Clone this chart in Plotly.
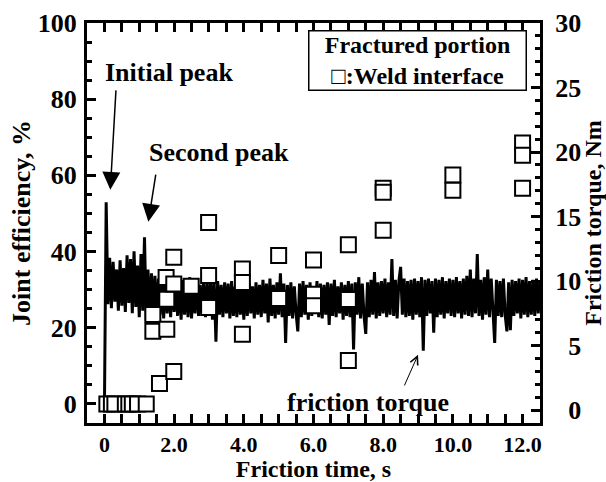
import plotly.graph_objects as go

# ---------------- data ----------------
SAMPLE_DT = 0.05  # s, sampling interval of the torque record
torque_nm = [
    0.0, 16.1, 8.2, 11.8, 7.9, 11.5, 8.4, 10.9, 7.7, 11.6, 8.1, 11.0, 7.6, 12.0, 8.3, 11.7, 7.5, 12.3, 8.0, 11.2, 7.2, 12.1, 7.7, 13.4, 6.9,
    10.9, 7.0, 10.6, 7.3, 10.4, 6.9, 10.2, 7.4, 10.5, 7.1, 10.3, 7.5, 10.0, 7.2, 10.4, 7.6, 9.9, 7.3, 10.2, 7.0, 10.1, 7.4, 9.8, 7.2, 10.3,
    7.1, 9.9, 7.5, 10.2, 7.3, 9.7, 7.6, 10.0, 7.2, 9.8, 7.4, 10.1, 7.0, 9.9, 5.3, 10.0, 7.4, 9.7, 7.2, 9.9, 7.5, 9.8, 7.1, 10.0, 7.3,
    9.6, 7.2, 9.9, 7.4, 9.7, 7.0, 10.0, 7.3, 9.8, 7.5, 9.6, 7.1, 9.9, 7.4, 9.7, 7.2, 10.1, 7.5, 9.8, 6.8, 10.2, 7.3, 9.7, 7.1, 9.9,
    7.4, 10.6, 7.2, 9.8, 5.2, 9.7, 7.3, 9.9, 7.1, 9.6, 7.5, 6.1, 9.8, 7.2, 10.0, 7.4, 9.7, 7.0, 9.9, 7.3, 9.6, 7.5, 10.0, 7.2, 9.8,
    7.1, 9.7, 7.4, 9.9, 6.6, 9.8, 7.3, 10.1, 7.2, 9.6, 7.5, 9.9, 7.0, 9.7, 7.3, 10.0, 7.2, 9.8, 4.7, 9.9, 7.4, 10.3, 7.1, 9.8, 7.3,
    5.9, 9.9, 7.2, 10.1, 7.4, 10.7, 7.1, 9.9, 7.3, 10.0, 7.5, 10.2, 7.2, 9.9, 7.4, 11.7, 7.3, 10.1, 7.1, 10.0, 11.1, 7.4, 10.2, 7.2, 10.0,
    7.3, 10.1, 7.0, 10.2, 7.4, 10.0, 7.2, 10.3, 4.6, 10.1, 7.3, 10.2, 7.5, 10.0, 6.0, 10.2, 7.2, 10.1, 7.4, 10.3, 7.1, 10.0, 7.5, 10.2, 7.3,
    10.1, 7.2, 10.3, 7.5, 10.0, 7.1, 10.2, 7.4, 10.4, 7.3, 10.9, 7.2, 10.2, 7.5, 12.1, 7.3, 10.1, 7.0, 10.3, 7.4, 10.9, 7.2, 10.2, 7.5, 5.2,
    10.1, 7.3, 10.0, 7.2, 10.2, 7.4, 6.1, 9.9, 6.2, 10.1, 7.3, 10.0, 7.5, 10.2, 7.1, 10.1, 7.4, 10.3, 7.2, 10.0, 7.4, 10.1, 7.3, 10.2, 7.5, 10.0,
]
torque_time = [round(i * SAMPLE_DT, 3) for i in range(len(torque_nm))]

weld_time = [0.07, 0.2, 0.3, 0.6, 0.7, 0.8, 0.95, 1.2,
             1.39, 1.39, 1.58, 1.77, 1.79, 1.79, 1.99, 1.99, 1.99,
             2.49, 2.99, 2.99, 2.99, 3.96, 3.96, 3.96,
             5.0, 5.0, 6.0, 6.0, 6.0, 7.0, 7.0, 7.0,
             8.0, 8.0, 8.0, 10.0, 10.0, 12.0, 12.0, 12.0]
weld_eff = [0, 0, 0, 0, 0, 0, 0, 0,
            23.5, 19.1, 5.4, 33.2, 27.5, 19.6, 38.5, 31.5, 8.5,
            30.9, 47.6, 33.7, 25.3, 35.4, 31.9, 18.3,
            39.0, 27.7, 37.8, 28.8, 25.8, 41.8, 27.4, 11.4,
            56.6, 55.6, 45.6, 60.1, 56.1, 68.5, 65.3, 56.6]

x_tickvals = [0, 2, 4, 6, 8, 10, 12]
x_ticktext = ["0", "2.0", "4.0", "6.0", "8.0", "10.0", "12.0"]
eff_tickvals = [0, 20, 40, 60, 80, 100]
torque_tickvals = [0, 5, 10, 15, 20, 25, 30]
torque_ticktext = ["\u00a0\u00a00", "\u00a0\u00a05", "10", "15", "20", "25", "30"]

FONT = "Liberation Serif"
FS = 26

fig = go.Figure()
# torque on primary y (drawn on the right), squares on overlaying y2 (left) so they sit on top
fig.add_trace(go.Scatter(x=torque_time, y=torque_nm, yaxis="y", mode="lines",
                         line=dict(color="black", width=3), showlegend=False, hoverinfo="skip"))
fig.add_trace(go.Scatter(x=weld_time, y=weld_eff, yaxis="y2", mode="markers",
                         marker=dict(symbol="square", size=15, color="white",
                                     line=dict(color="black", width=2)),
                         showlegend=False))

axis_common = dict(showline=True, linecolor="black", linewidth=3, ticks="inside",
                   tickcolor="black", tickwidth=3, ticklen=9, showgrid=False, zeroline=False,
                   automargin=False)

fig.update_layout(
    width=606, height=482,
    margin=dict(l=87, r=66, t=23, b=59),
    paper_bgcolor="white", plot_bgcolor="white",
    font=dict(family=FONT, size=FS, color="black", weight="bold"),
    xaxis=dict(range=[-0.5, 12.5], tickvals=x_tickvals, ticktext=x_ticktext, mirror="allticks",
               minor=dict(dtick=0.5, tick0=0, ticks="inside", ticklen=5, tickwidth=3, tickcolor="black"),
               tickfont=dict(family=FONT, size=22, color="black", weight="bold"),
               title=dict(text="Friction time, s", font=dict(family=FONT, size=24, weight="bold"), standoff=6),
               ticklabelstandoff=0,
               **axis_common),
    yaxis=dict(range=[-1, 30], side="right", tickvals=torque_tickvals, ticktext=torque_ticktext,
               minor=dict(dtick=1, tick0=0, ticks="inside", ticklen=5, tickwidth=3, tickcolor="black"),
               tickfont=dict(family=FONT, size=FS, color="black", weight="bold"),
               title=dict(text="Friction torque, Nm", font=dict(family=FONT, size=24, weight="bold"), standoff=4),
               ticklabelstandoff=7,
               **axis_common),
    yaxis2=dict(range=[-5, 100], side="left", overlaying="y", tickvals=eff_tickvals,
                minor=dict(dtick=5, tick0=0, ticks="inside", ticklen=5, tickwidth=3, tickcolor="black"),
                tickfont=dict(family=FONT, size=FS, color="black", weight="bold"),
                title=dict(text="Joint efficiency, %", font=dict(family=FONT, size=FS, weight="bold"), standoff=0),
                ticklabelstandoff=2,
                **axis_common),
)

ann_font = dict(family=FONT, size=FS, color="black", weight="bold")
# text labels
fig.add_annotation(x=1.84, y=87.1, xref="x", yref="y2", text="Initial peak", showarrow=False,
                   xanchor="center", yanchor="middle", font=ann_font)
fig.add_annotation(x=3.30, y=65.9, xref="x", yref="y2", text="Second peak", showarrow=False,
                   xanchor="center", yanchor="middle", font=ann_font)
fig.add_annotation(x=7.56, y=0.5, xref="x", yref="y2", text="friction torque", showarrow=False,
                   xanchor="center", yanchor="middle", font=ann_font)
# arrows
fig.add_annotation(x=0.169, y=56.2, ax=0.333, ay=82.7, xref="x", yref="y2", axref="x", ayref="y2",
                   text="", showarrow=True, arrowhead=2, arrowsize=2.4, arrowwidth=1.5, arrowcolor="black", standoff=0)
fig.add_annotation(x=1.26, y=47.8, ax=1.48, ay=60.6, xref="x", yref="y2", axref="x", ayref="y2",
                   text="", showarrow=True, arrowhead=2, arrowsize=2.4, arrowwidth=1.5, arrowcolor="black", standoff=0)
fig.add_annotation(x=9.0, y=12.9, ax=8.59, ay=4.46, xref="x", yref="y2", axref="x", ayref="y2",
                   text="", showarrow=True, arrowhead=5, arrowsize=1.6, arrowwidth=1, arrowcolor="black", standoff=0)

# legend box (one two-line text inside a bordered box)
fig.add_annotation(x=0.7295, y=0.9075, xref="paper", yref="paper",
                   text="Fractured portion<br>\u25a1:Weld interface",
                   showarrow=False, xanchor="center", yanchor="middle", align="center",
                   font=dict(family=FONT, size=24, color="black", weight="bold"),
                   bordercolor="black", borderwidth=1.5, borderpad=0, bgcolor="white",
                   width=216, height=58)

fig.write_html("out.html")
